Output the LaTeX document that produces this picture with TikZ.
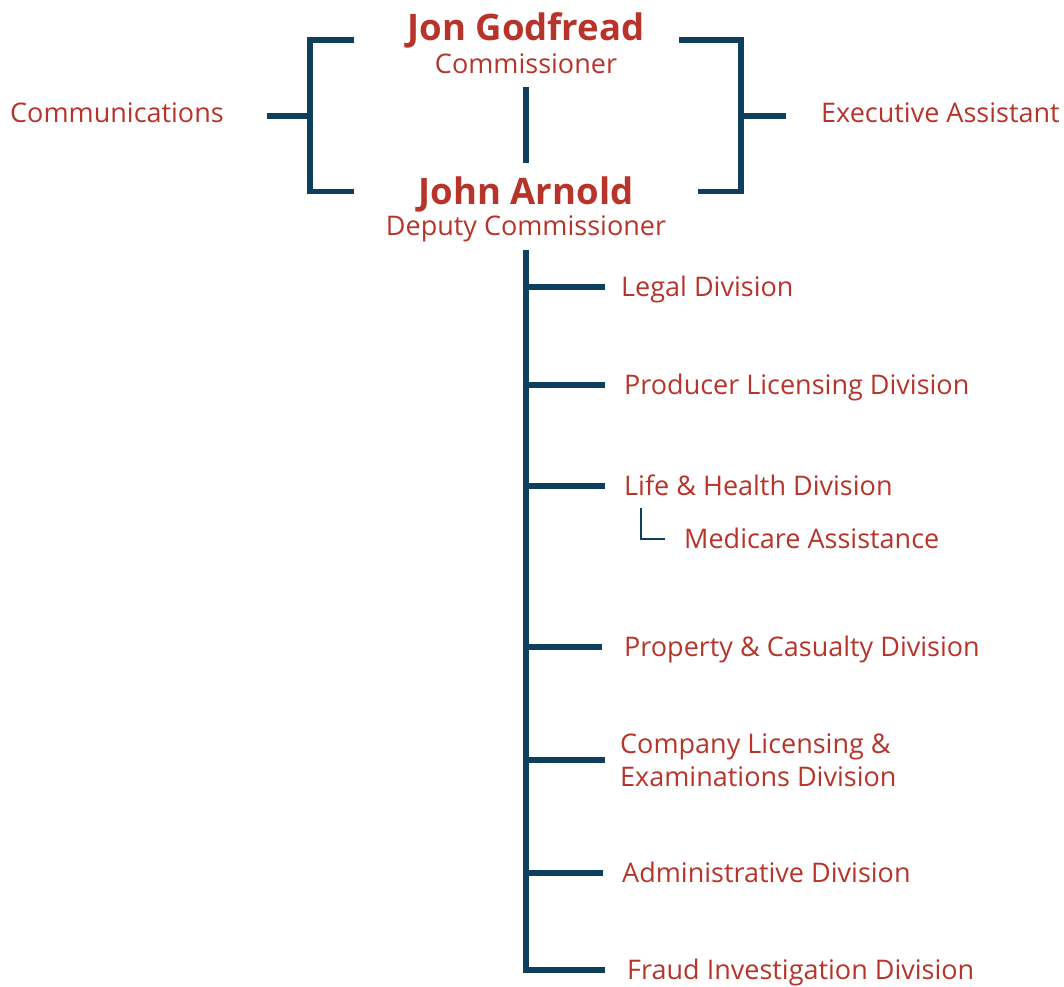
\documentclass[tikz,border=0pt]{standalone}
\usepackage{fontspec}
\setmainfont{Open Sans}
\usepackage{tikz}
\usetikzlibrary{positioning}
\definecolor{orgred}{RGB}{183,52,43}
\definecolor{orgblue}{RGB}{14,63,93}
\tikzset{
    unit/.style  = {text=orgred,
                    font=\fontsize{27}{33}\selectfont,
                    inner sep=0pt,
                    anchor=west,
                    align=left
    },
    row/.style   = {unit,
                    text height=19pt,
                    text depth=0pt
    },
    chief/.style = {text=orgred,
                    font=\fontsize{36.5}{40}\selectfont\bfseries,
                    inner sep=0pt,
                    anchor=base,
                    text height=25pt,
                    text depth=0pt
    },
    title/.style = {text=orgred,
                    font=\fontsize{27}{33}\selectfont,
                    inner sep=0pt,
                    anchor=base
    },
    link/.style    = {draw=orgblue, line width=5.5pt},
    sublink/.style = {draw=orgblue, line width=2pt}
}

\begin{document}
\begin{tikzpicture}[x=1pt,y=-1pt]
    \useasboundingbox (0,0) rectangle (1064,986);

    \node [chief] (godfread) at (526,40)  {Jon Godfread};
    \node [title] (commish)  at (526,73)  {Commissioner};
    \node [chief] (arnold)   at (526,204) {John Arnold};
    \node [title] (deputy)   at (526,235) {Deputy Commissioner};

    \node [row]   (comm)     at (10,113)  {Communications};
    \node [row]   (exec)     at (821,113) {Executive Assistant};

    \node [row]   (legal)    at (621,287) {Legal Division};
    \node [row]   (producer) at (624,385) {Producer Licensing Division};
    \node [row]   (life)     at (624,486) {Life \& Health Division};
    \node [row]   (medicare) at (684,539) {Medicare Assistance};
    \node [row]   (property) at (624,647) {Property \& Casualty Division};
    \node [unit]  (company)  at (620,760) {Company Licensing \&\\Examinations Division};
    \node [row]   (admin)    at (622,873) {Administrative Division};
    \node [row]   (fraud)    at (627,970) {Fraud Investigation Division};

    \coordinate (lbar)  at (310,116);
    \coordinate (rbar)  at (741,116);
    \coordinate (spine) at ([yshift=-15pt]deputy.base);

    % brackets round the two heads
    \draw[link] ([xshift=-53pt]godfread.base west) -| (lbar) |- ([xshift=-64pt]arnold.west);
    \draw[link] ([xshift=34pt]godfread.base east) -| (rbar) |- ([xshift=64pt]arnold.east);
    \draw[link] ([xshift=43pt,yshift=-3pt]comm.east) -- (lbar);
    \draw[link] (rbar) -- ([xshift=-35pt,yshift=-3pt]exec.west);
    \draw[link] ([yshift=-14pt]commish.base) -- ([yshift=16pt]arnold.north);

    % divisions
    \draw[link] (spine) |- ([xshift=-22pt]fraud.west);
    \foreach \u/\g in {legal/16, producer/19, life/19, property/22, company/15, admin/19}
        \draw[link] (spine |- \u.west) -- ([xshift=-\g pt]\u.west);
    \draw[sublink] ([xshift=17pt,yshift=-12pt]life.south west) |- ([xshift=-19pt]medicare.west);
\end{tikzpicture}
\end{document}
